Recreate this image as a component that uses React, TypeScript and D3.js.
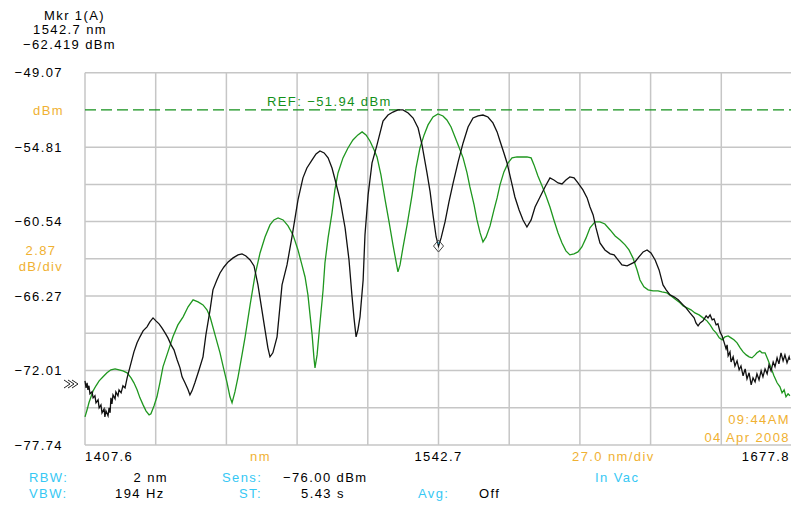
import React from "react";
import * as d3 from "d3";

const WIDTH = 791;
const HEIGHT = 505;

const startNm = 1407.6;
const stopNm = 1677.8;
const centerNm = 1542.7;
const topDbm = -49.07;
const bottomDbm = -77.74;
const refDbm = -51.94;
const yTickValues = [-49.07, -54.81, -60.54, -66.27, -72.01, -77.74];
const markerNm = 1542.7;
const markerDbm = -62.419;

// Trace A (black): [wavelength nm, level dBm]
const blackTrace: [number, number][] = [
  [1407.6,-72.80],[1408.0,-73.34],[1408.4,-72.95],[1408.7,-73.49],[1409.1,-73.18],[1409.5,-73.80],[1410.3,-73.65],[1410.7,-74.11],
  [1411.4,-73.95],[1411.8,-74.49],[1412.6,-74.26],[1413.0,-74.88],[1413.7,-74.65],[1414.1,-75.26],[1414.9,-74.96],[1415.2,-75.57],
  [1415.6,-75.11],[1416.4,-75.49],[1416.8,-74.88],[1417.2,-75.26],[1417.5,-74.11],[1417.9,-74.57],[1418.3,-73.88],[1419.1,-74.18],
  [1419.4,-73.65],[1420.2,-73.95],[1420.6,-73.49],[1421.4,-73.72],[1422.1,-73.18],[1422.9,-73.34],[1423.7,-72.57],[1424.8,-71.72],
  [1426.3,-70.57],[1427.5,-69.87],[1428.6,-69.41],[1429.8,-68.95],[1431.3,-68.64],[1432.4,-68.26],[1433.6,-67.95],[1434.7,-68.18],
  [1435.9,-68.41],[1437.0,-68.72],[1438.2,-69.11],[1439.3,-69.49],[1440.5,-70.03],[1441.6,-70.41],[1442.8,-71.18],[1443.9,-71.80],
  [1444.7,-72.49],[1445.8,-72.95],[1447.0,-73.49],[1447.7,-73.88],[1448.5,-73.57],[1449.6,-72.95],[1451.2,-71.95],[1452.7,-70.95],
  [1453.8,-69.26],[1455.4,-67.33],[1456.5,-65.79],[1458.0,-65.03],[1459.2,-64.49],[1460.7,-64.03],[1462.3,-63.64],[1464.2,-63.33],
  [1466.1,-63.10],[1467.6,-63.02],[1469.1,-63.18],[1470.7,-63.49],[1472.2,-63.95],[1473.7,-65.41],[1475.2,-67.33],[1476.4,-68.87],
  [1477.5,-70.26],[1478.3,-70.95],[1479.4,-70.64],[1481.0,-69.41],[1482.9,-65.41],[1484.8,-63.87],[1486.7,-61.72],[1489.0,-58.87],
  [1490.9,-57.17],[1492.4,-56.41],[1494.4,-55.79],[1495.9,-55.33],[1497.4,-55.10],[1499.0,-55.25],[1500.5,-55.63],[1502.0,-56.41],
  [1503.2,-57.33],[1505.1,-58.87],[1507.0,-61.02],[1508.5,-63.49],[1509.6,-66.18],[1510.4,-67.95],[1511.2,-69.41],[1511.9,-68.87],
  [1512.7,-67.87],[1513.9,-65.03],[1514.6,-61.56],[1515.8,-58.48],[1517.3,-56.02],[1519.2,-54.63],[1521.5,-52.79],[1523.4,-52.33],
  [1525.3,-52.10],[1527.2,-51.94],[1529.1,-51.94],[1531.1,-52.17],[1533.0,-52.56],[1534.9,-53.33],[1536.4,-54.63],[1538.3,-56.79],
  [1539.5,-58.25],[1540.6,-60.02],[1541.8,-61.72],[1542.7,-62.42],[1543.7,-61.79],[1545.2,-60.56],[1546.7,-59.02],[1548.3,-57.56],
  [1550.2,-55.94],[1552.1,-54.48],[1554.0,-53.25],[1555.9,-52.56],[1557.8,-52.40],[1559.7,-52.33],[1561.6,-52.48],[1563.5,-52.94],
  [1565.1,-53.63],[1566.2,-54.33],[1567.7,-55.25],[1568.9,-56.02],[1570.4,-57.33],[1571.9,-58.64],[1573.5,-59.64],[1575.0,-60.41],
  [1576.5,-60.95],[1578.1,-60.41],[1579.6,-59.41],[1581.5,-58.64],[1583.4,-57.87],[1585.3,-57.17],[1586.8,-57.33],[1588.4,-57.56],
  [1589.9,-57.64],[1591.4,-57.33],[1592.9,-57.10],[1594.5,-57.17],[1596.0,-57.56],[1597.9,-58.10],[1599.5,-58.71],[1600.6,-59.41],
  [1601.8,-60.02],[1602.9,-61.02],[1604.4,-62.18],[1606.3,-62.72],[1608.3,-63.02],[1609.8,-63.10],[1611.3,-63.49],[1612.8,-63.87],
  [1614.8,-63.95],[1616.3,-63.79],[1617.8,-63.64],[1619.3,-63.26],[1620.9,-62.87],[1622.4,-62.72],[1623.9,-62.95],[1625.5,-63.49],
  [1627.0,-64.26],[1628.5,-65.41],[1629.7,-65.79],[1631.2,-66.18],[1632.7,-66.33],[1634.3,-66.56],[1635.8,-66.87],[1637.3,-67.18],
  [1638.8,-67.57],[1640.4,-67.95],[1641.1,-68.34],[1641.9,-68.57],[1642.7,-68.34],[1643.8,-68.18],[1645.0,-67.80],[1645.7,-67.95],
  [1646.5,-67.72],[1647.3,-68.10],[1648.0,-68.03],[1648.8,-68.49],[1649.5,-68.41],[1650.3,-69.03],[1651.1,-69.34],[1651.8,-69.80],
  [1652.6,-70.34],[1653.0,-70.03],[1653.4,-70.87],[1654.1,-70.57],[1654.5,-71.34],[1655.3,-70.95],[1656.0,-71.65],[1656.8,-71.26],
  [1657.6,-71.95],[1658.3,-71.65],[1659.1,-72.41],[1659.9,-71.88],[1660.6,-72.65],[1661.4,-72.18],[1662.2,-73.11],[1662.9,-72.57],
  [1663.7,-72.88],[1664.4,-72.26],[1665.2,-72.72],[1666.0,-72.03],[1666.7,-72.49],[1667.5,-71.88],[1668.3,-72.26],[1669.0,-71.57],
  [1669.8,-72.03],[1670.6,-71.34],[1671.3,-71.72],[1672.1,-71.03],[1672.8,-71.49],[1673.6,-70.64],[1674.4,-71.26],[1675.1,-70.80],
  [1675.9,-71.41],[1676.7,-70.95],[1677.0,-71.18],
];

// Trace B (green): [wavelength nm, level dBm]
const greenTrace: [number, number][] = [
  [1407.6,-75.57],[1408.4,-75.03],[1409.1,-74.49],[1409.9,-74.03],[1410.7,-73.57],[1411.8,-73.18],[1413.0,-72.80],[1414.5,-72.49],
  [1416.0,-72.18],[1417.5,-71.95],[1419.1,-71.88],[1420.6,-71.95],[1422.1,-72.03],[1423.7,-72.18],[1425.2,-72.57],[1426.3,-72.95],
  [1427.5,-73.49],[1428.6,-74.11],[1429.8,-74.65],[1430.9,-75.11],[1432.1,-75.42],[1432.8,-75.34],[1434.0,-74.72],[1435.1,-74.03],
  [1436.3,-72.88],[1437.4,-71.72],[1439.3,-70.57],[1441.2,-69.41],[1443.1,-68.49],[1445.1,-67.87],[1447.0,-67.10],[1448.9,-66.56],
  [1450.8,-66.72],[1452.7,-66.95],[1454.2,-67.33],[1455.4,-67.87],[1457.3,-69.26],[1459.2,-70.64],[1460.7,-71.95],[1461.9,-72.95],
  [1463.0,-74.03],[1463.8,-74.49],[1464.9,-73.65],[1466.1,-72.49],[1467.6,-70.80],[1468.8,-69.41],[1470.7,-66.95],[1472.6,-64.64],
  [1474.5,-62.95],[1476.4,-61.72],[1478.3,-60.79],[1479.8,-60.41],[1481.4,-60.25],[1483.3,-60.41],[1485.2,-60.87],[1487.1,-61.56],
  [1489.0,-62.72],[1490.5,-63.87],[1491.7,-64.80],[1492.8,-66.18],[1493.6,-67.72],[1494.4,-69.26],[1495.1,-71.03],[1495.5,-71.80],
  [1496.3,-70.80],[1497.4,-68.34],[1498.6,-65.79],[1499.3,-63.72],[1500.5,-61.79],[1502.0,-59.87],[1503.1,-58.10],[1504.3,-56.79],
  [1506.2,-55.63],[1508.1,-54.87],[1510.0,-54.25],[1511.9,-53.86],[1513.5,-53.63],[1515.0,-53.86],[1516.5,-54.33],[1518.1,-55.02],
  [1519.2,-55.56],[1520.7,-56.94],[1522.3,-58.87],[1523.8,-60.56],[1525.3,-62.33],[1526.5,-63.64],[1527.2,-64.41],[1528.0,-63.87],
  [1529.1,-62.56],[1530.7,-60.79],[1532.6,-58.48],[1534.1,-56.41],[1535.6,-54.87],[1537.2,-53.86],[1538.7,-53.09],[1540.6,-52.48],
  [1542.5,-52.25],[1544.4,-52.40],[1545.9,-52.71],[1547.5,-53.25],[1549.0,-54.02],[1550.5,-54.79],[1552.1,-55.63],[1553.6,-56.79],
  [1554.7,-57.87],[1556.3,-59.25],[1557.4,-60.41],[1558.6,-61.41],[1559.7,-62.10],[1560.9,-61.72],[1562.4,-60.87],[1563.9,-59.64],
  [1565.1,-58.71],[1566.2,-57.71],[1567.7,-56.71],[1569.3,-56.02],[1570.8,-55.63],[1572.7,-55.56],[1574.6,-55.56],[1576.5,-55.56],
  [1578.1,-55.63],[1579.2,-56.17],[1580.7,-57.02],[1582.3,-57.79],[1583.8,-58.56],[1585.3,-59.41],[1586.8,-60.41],[1588.4,-61.41],
  [1589.9,-62.18],[1591.4,-62.79],[1592.9,-63.10],[1594.5,-63.02],[1596.0,-62.87],[1597.5,-62.49],[1599.1,-61.79],[1600.6,-61.02],
  [1602.5,-60.56],[1604.4,-60.56],[1606.3,-60.72],[1608.3,-61.18],[1610.2,-61.64],[1612.1,-61.95],[1614.0,-62.33],[1615.5,-62.72],
  [1617.0,-63.33],[1618.6,-64.26],[1619.7,-65.03],[1621.2,-65.56],[1622.8,-65.79],[1624.7,-65.87],[1626.6,-65.87],[1628.1,-65.95],
  [1630.0,-66.03],[1631.6,-66.26],[1633.1,-66.49],[1634.6,-66.72],[1636.2,-67.03],[1637.7,-67.18],[1639.2,-67.33],[1640.7,-67.57],
  [1642.3,-67.72],[1643.8,-67.95],[1645.3,-68.18],[1646.5,-68.49],[1647.7,-68.87],[1648.8,-69.11],[1650.0,-69.49],[1651.1,-69.64],
  [1652.2,-69.41],[1653.4,-69.34],[1654.5,-69.49],[1655.6,-69.64],[1656.8,-69.87],[1658.0,-70.26],[1659.1,-70.57],[1660.3,-70.80],
  [1661.4,-70.95],[1662.5,-71.03],[1663.7,-70.80],[1664.4,-70.64],[1665.5,-70.49],[1666.3,-70.64],[1667.5,-70.64],[1668.6,-71.18],
  [1669.8,-71.80],[1670.9,-72.41],[1672.1,-72.95],[1673.2,-73.26],[1674.0,-73.72],[1674.8,-73.49],[1675.5,-74.03],[1676.3,-73.80],
  [1677.0,-73.95],
];

const ORANGE = "#f0b132";
const CYAN = "#36c8f4";
const GREEN = "#1f971f";
const REF_GREEN = "#13901a";
const GRID = "#c6c6c6";

const FONT = "'Liberation Sans', Arial, Helvetica, sans-serif";

const fmt = (v: number) => (v < 0 ? "\u2212" : "") + Math.abs(v).toFixed(2);

export default function App() {
  const x = d3.scaleLinear().domain([startNm, stopNm]).range([85, 792]);
  const y = d3.scaleLinear().domain([bottomDbm, topDbm]).range([445, 72.7]);
  const xDiv = (stopNm - startNm) / 10;
  const yDiv = (topDbm - bottomDbm) / 10;
  const line = d3
    .line<[number, number]>()
    .x((d) => x(d[0]))
    .y((d) => y(d[1]));

  const hGrid = d3.range(11).filter((k) => k !== 1).map((k) => y(topDbm - k * yDiv));
  const vGrid = d3.range(11).map((k) => x(startNm + k * xDiv));

  const mx = x(markerNm);
  const my = y(markerDbm);

  const txt = { fontFamily: FONT, fontSize: 13, letterSpacing: 1.4 } as const;

  return (
    <svg
      width={WIDTH}
      height={HEIGHT}
      style={{ position: "absolute", left: 0, top: 0, background: "#fff" }}
    >
      <rect x={0} y={0} width={WIDTH} height={HEIGHT} fill="#fff" />
      {/* grid */}
      <g stroke={GRID} strokeWidth={1.5}>
        {hGrid.map((gy, i) => (
          <line key={"h" + i} x1={85} x2={792} y1={gy} y2={gy} />
        ))}
        {vGrid.map((gx, i) => (
          <line key={"v" + i} x1={gx} x2={gx} y1={72.7} y2={445} />
        ))}
      </g>
      {/* reference line */}
      <line
        x1={85}
        x2={792}
        y1={y(refDbm)}
        y2={y(refDbm)}
        stroke={REF_GREEN}
        strokeWidth={1.3}
        strokeDasharray="11 5"
      />
      <text x={267} y={y(refDbm) - 4} fill={REF_GREEN} {...txt}>
        REF: {fmt(refDbm)} dBm
      </text>

      {/* traces */}
      <path d={line(greenTrace) || ""} fill="none" stroke={GREEN} strokeWidth={1.3} />
      <path d={line(blackTrace) || ""} fill="none" stroke="#111" strokeWidth={1.3} />

      {/* marker */}
      <path
        d={`M${mx},${my - 6} L${mx + 5},${my} L${mx},${my + 6} L${mx - 5},${my} Z`}
        fill="none"
        stroke="#444"
        strokeWidth={1}
      />
      <line x1={mx - 1} x2={mx + 1} y1={my - 3} y2={my - 3} stroke={CYAN} strokeWidth={1} />

      {/* marker readout */}
      <text x={44} y={19.5} fill="#000" {...txt}>Mkr 1(A)</text>
      <text x={33} y={33.5} fill="#000" {...txt}>{markerNm.toFixed(1)} nm</text>
      <text x={23} y={48.5} fill="#000" {...txt}>{"\u2212" + Math.abs(markerDbm).toFixed(3)} dBm</text>

      {/* y labels */}
      {yTickValues.map((v, i) => (
        <text key={"yl" + i} x={63} y={y(v) + 4.6} textAnchor="end" fill="#000" {...txt}>
          {fmt(v)}
        </text>
      ))}
      <text x={64} y={y(topDbm - yDiv) + 4.6} textAnchor="end" fill={ORANGE} {...txt}>dBm</text>
      <text x={41} y={255} textAnchor="middle" fill={ORANGE} {...txt}>{yDiv.toFixed(2)}</text>
      <text x={41} y={271} textAnchor="middle" fill={ORANGE} {...txt}>dB/div</text>

      {/* overflow arrow */}
      <g stroke="#222" strokeWidth={1} fill="none">
        <path d="M64,380 L70,384 L64,388" />
        <path d="M68,380 L74,384 L68,388" />
        <path d="M72,380 L78,384 L72,388" />
      </g>

      {/* x labels */}
      <text x={85} y={461} fill="#000" {...txt}>{startNm.toFixed(1)}</text>
      <text x={250} y={461} fill={ORANGE} {...txt}>nm</text>
      <text x={x(centerNm)} y={461} textAnchor="middle" fill="#000" {...txt}>{centerNm.toFixed(1)}</text>
      <text x={572} y={461} fill={ORANGE} {...txt}>{xDiv.toFixed(1)} nm/div</text>
      <text x={790} y={461} textAnchor="end" fill="#000" {...txt}>{stopNm.toFixed(1)}</text>

      {/* timestamp */}
      <text x={790} y={424} textAnchor="end" fill={ORANGE} {...txt}>09:44AM</text>
      <text x={790} y={442} textAnchor="end" fill={ORANGE} {...txt}>04 Apr 2008</text>

      {/* settings */}
      <text x={29} y={482} fill={CYAN} {...txt}>RBW:</text>
      <text x={168} y={482} textAnchor="end" fill="#000" {...txt}>2 nm</text>
      <text x={222} y={482} fill={CYAN} {...txt}>Sens:</text>
      <text x={283} y={482} fill="#000" {...txt}>{"\u221276.00"} dBm</text>
      <text x={595} y={482} fill={CYAN} {...txt}>In Vac</text>

      <text x={29} y={498} fill={CYAN} {...txt}>VBW:</text>
      <text x={115} y={498} fill="#000" {...txt}>194 Hz</text>
      <text x={239} y={498} fill={CYAN} {...txt}>ST:</text>
      <text x={301} y={498} fill="#000" {...txt}>5.43 s</text>
      <text x={418} y={498} fill={CYAN} {...txt}>Avg:</text>
      <text x={479} y={498} fill="#000" {...txt}>Off</text>
    </svg>
  );
}
